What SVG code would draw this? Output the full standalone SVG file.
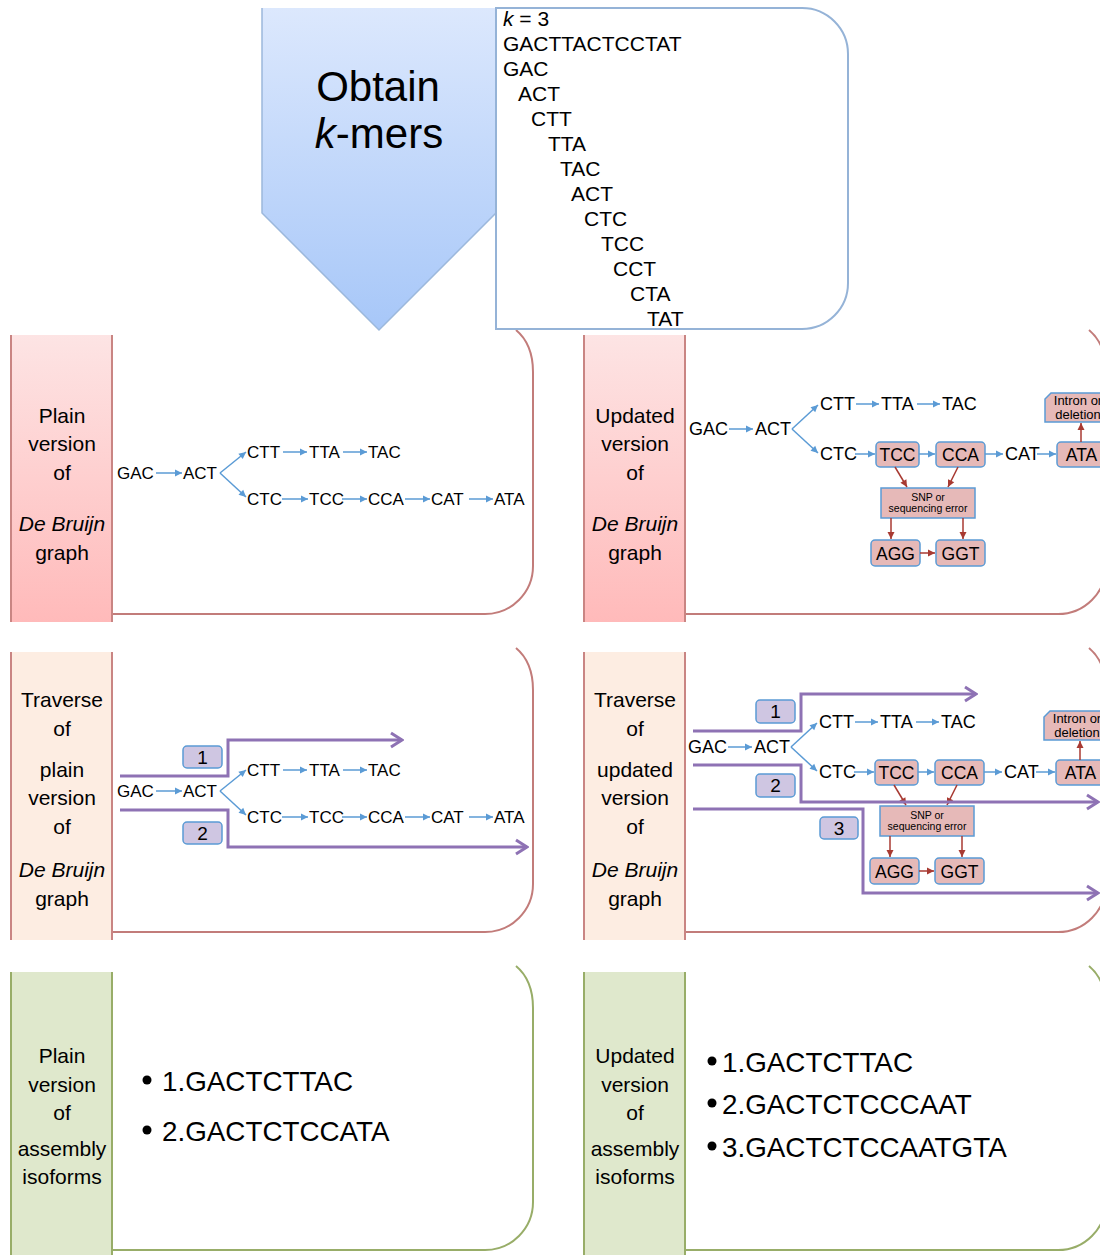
<svg xmlns="http://www.w3.org/2000/svg" width="1100" height="1255" viewBox="0 0 1100 1255">
<defs>
<linearGradient id="gBlue" x1="0" y1="0" x2="0" y2="1"><stop offset="0" stop-color="#dce8fd"/><stop offset="1" stop-color="#a7c7f8"/></linearGradient>
<linearGradient id="gPink" x1="0" y1="0" x2="0" y2="1"><stop offset="0" stop-color="#fde4e4"/><stop offset="1" stop-color="#ffbaba"/></linearGradient>
<marker id="mb" viewBox="-8 -5 9 10" markerWidth="9" markerHeight="10" refX="0" refY="0" orient="auto" markerUnits="userSpaceOnUse"><path d="M-7,-3.5 L0,0 L-7,3.5 Z" fill="#5b9bd5"/></marker>
<marker id="mr" viewBox="-8 -5 9 10" markerWidth="9" markerHeight="10" refX="0" refY="0" orient="auto" markerUnits="userSpaceOnUse"><path d="M-7,-3.5 L0,0 L-7,3.5 Z" fill="#a83a32"/></marker>
<marker id="mp" viewBox="-14 -10 16 20" markerWidth="16" markerHeight="20" refX="0" refY="0" orient="auto" markerUnits="userSpaceOnUse"><path d="M-11,-7 L0,0 L-11,7" fill="none" stroke="#8e72b4" stroke-width="3"/></marker>
</defs>
<style>
text{font-family:"Liberation Sans",Arial,sans-serif;fill:#000}
.tab{font-size:21px;text-anchor:middle}
.it{font-style:italic}
.g{font-size:17px}
.g2{font-size:18px}
.bx{font-size:17.5px;text-anchor:middle}
.km{font-size:21px}
.blue{stroke:#5b9bd5;stroke-width:1.5;fill:none;marker-end:url(#mb)}
.red{stroke:#a83a32;stroke-width:1.5;fill:none;marker-end:url(#mr)}
.pur{stroke:#8e72b4;stroke-width:3;fill:none;marker-end:url(#mp)}
.node{fill:#e6b9b8;stroke:#5b9bd5;stroke-width:1.5}
.lbl{fill:#cfc6e2;stroke:#5b9bd5;stroke-width:1.5}
.lt{font-size:19px;text-anchor:middle}
.cr{fill:none;stroke:#c27c7a;stroke-width:2}
.cg{fill:none;stroke:#98ad68;stroke-width:2}
.br{stroke:#c98583;stroke-width:2}
.bg{stroke:#98ad68;stroke-width:2}
.iso{font-size:27.8px}
.intr{font-size:13px;text-anchor:middle}
.snp{font-size:10.5px;text-anchor:middle}
</style>

<g id="containers">
<path class="cr" d="M516 330 C528 340 533 355 533 372 L533 566 A48 48 0 0 1 485 614 L112 614"/>
<path class="cr" d="M1089 330 C1101 340 1106 355 1106 372 L1106 566 A48 48 0 0 1 1058 614 L685 614"/>
<path class="cr" d="M516 648 C528 658 533 673 533 690 L533 884 A48 48 0 0 1 485 932 L112 932"/>
<path class="cr" d="M1089 648 C1101 658 1106 673 1106 690 L1106 884 A48 48 0 0 1 1058 932 L685 932"/>
<path class="cg" d="M516 966 C528 976 533 991 533 1008 L533 1202 A48 48 0 0 1 485 1250 L112 1250"/>
<path class="cg" d="M1089 966 C1101 976 1106 991 1106 1008 L1106 1202 A48 48 0 0 1 1058 1250 L685 1250"/>
</g>

<g id="obtain">
<path d="M262 8 H496 V213 L379 330 L262 213 Z" fill="url(#gBlue)"/>
<path d="M262 8 V213 L379 330 L496 213" fill="none" stroke="#9cb8dc" stroke-width="1.5"/>
<text x="378" y="101" font-size="42" text-anchor="middle">Obtain</text>
<text x="379" y="148" font-size="42" text-anchor="middle"><tspan class="it">k</tspan>-mers</text>
</g>
<g id="kmers">
<path d="M496 8 H802 A46 46 0 0 1 848 54 V283 A46 46 0 0 1 802 329 H496 Z" fill="#fff" stroke="#95b3d7" stroke-width="2"/>
<text class="km" x="503" y="26"><tspan class="it">k</tspan> = 3</text>
<text class="km" x="503" y="51">GACTTACTCCTAT</text>
<text class="km" x="503" y="76">GAC</text>
<text class="km" x="518" y="101">ACT</text>
<text class="km" x="531" y="126">CTT</text>
<text class="km" x="548" y="151">TTA</text>
<text class="km" x="560" y="176">TAC</text>
<text class="km" x="571" y="201">ACT</text>
<text class="km" x="584" y="226">CTC</text>
<text class="km" x="601" y="251">TCC</text>
<text class="km" x="613" y="276">CCT</text>
<text class="km" x="630" y="301">CTA</text>
<text class="km" x="647" y="326">TAT</text>
</g>

<g id="tab-plain-graph">
<rect x="11" y="335" width="101" height="287" fill="url(#gPink)"/>
<line class="br" x1="11" y1="335" x2="11" y2="622"/><line class="br" x1="112" y1="335" x2="112" y2="622"/>
<text class="tab" x="62" y="423">Plain</text><text class="tab" x="62" y="451">version</text><text class="tab" x="62" y="480">of</text>
<text class="tab it" x="62" y="531">De Bruijn</text><text class="tab" x="62" y="560">graph</text>
</g>
<g id="tab-updated-graph">
<rect x="584" y="335" width="101" height="287" fill="url(#gPink)"/>
<line class="br" x1="584" y1="335" x2="584" y2="622"/><line class="br" x1="685" y1="335" x2="685" y2="622"/>
<text class="tab" x="635" y="423">Updated</text><text class="tab" x="635" y="451">version</text><text class="tab" x="635" y="480">of</text>
<text class="tab it" x="635" y="531">De Bruijn</text><text class="tab" x="635" y="560">graph</text>
</g>
<g id="tab-traverse-plain">
<rect x="11" y="652" width="101" height="288" fill="#fdede2"/>
<line class="br" x1="11" y1="652" x2="11" y2="940"/><line class="br" x1="112" y1="652" x2="112" y2="940"/>
<text class="tab" x="62" y="707">Traverse</text><text class="tab" x="62" y="736">of</text><text class="tab" x="62" y="777">plain</text>
<text class="tab" x="62" y="805">version</text><text class="tab" x="62" y="834">of</text>
<text class="tab it" x="62" y="877">De Bruijn</text><text class="tab" x="62" y="906">graph</text>
</g>
<g id="tab-traverse-updated">
<rect x="584" y="652" width="101" height="288" fill="#fdede2"/>
<line class="br" x1="584" y1="652" x2="584" y2="940"/><line class="br" x1="685" y1="652" x2="685" y2="940"/>
<text class="tab" x="635" y="707">Traverse</text><text class="tab" x="635" y="736">of</text><text class="tab" x="635" y="777">updated</text>
<text class="tab" x="635" y="805">version</text><text class="tab" x="635" y="834">of</text>
<text class="tab it" x="635" y="877">De Bruijn</text><text class="tab" x="635" y="906">graph</text>
</g>
<g id="tab-plain-assembly">
<rect x="11" y="972" width="101" height="283" fill="#dfe8cc"/>
<line class="bg" x1="11" y1="972" x2="11" y2="1255"/><line class="bg" x1="112" y1="972" x2="112" y2="1255"/>
<text class="tab" x="62" y="1063">Plain</text><text class="tab" x="62" y="1092">version</text><text class="tab" x="62" y="1120">of</text>
<text class="tab" x="62" y="1156">assembly</text><text class="tab" x="62" y="1184">isoforms</text>
</g>
<g id="tab-updated-assembly">
<rect x="584" y="972" width="101" height="283" fill="#dfe8cc"/>
<line class="bg" x1="584" y1="972" x2="584" y2="1255"/><line class="bg" x1="685" y1="972" x2="685" y2="1255"/>
<text class="tab" x="635" y="1063">Updated</text><text class="tab" x="635" y="1092">version</text><text class="tab" x="635" y="1120">of</text>
<text class="tab" x="635" y="1156">assembly</text><text class="tab" x="635" y="1184">isoforms</text>
</g>

<g id="plain-graph">
<text class="g" x="117" y="479">GAC</text><text class="g" x="183" y="479">ACT</text>
<text class="g" x="247" y="458">CTT</text><text class="g" x="309" y="458">TTA</text><text class="g" x="368" y="458">TAC</text>
<text class="g" x="247" y="505">CTC</text><text class="g" x="309" y="505">TCC</text><text class="g" x="368" y="505">CCA</text>
<text class="g" x="431" y="505">CAT</text><text class="g" x="494" y="505">ATA</text>
</g>
<g id="plain-graph-traverse" transform="translate(0,318)">
<text class="g" x="117" y="479">GAC</text><text class="g" x="183" y="479">ACT</text>
<text class="g" x="247" y="458">CTT</text><text class="g" x="309" y="458">TTA</text><text class="g" x="368" y="458">TAC</text>
<text class="g" x="247" y="505">CTC</text><text class="g" x="309" y="505">TCC</text><text class="g" x="368" y="505">CCA</text>
<text class="g" x="431" y="505">CAT</text><text class="g" x="494" y="505">ATA</text>
</g>

<g id="updated-graph">
<text class="g2" x="689" y="435">GAC</text><text class="g2" x="755" y="435">ACT</text>
<text class="g2" x="820" y="410">CTT</text><text class="g2" x="881" y="410">TTA</text><text class="g2" x="942" y="410">TAC</text>
<text class="g2" x="820" y="460">CTC</text><text class="g2" x="1005" y="460">CAT</text>
<rect class="node" x="876" y="442" width="43" height="25" rx="4"/><text class="bx" x="897.5" y="461">TCC</text>
<rect class="node" x="936" y="442" width="49" height="25" rx="4"/><text class="bx" x="960.5" y="461">CCA</text>
<rect class="node" x="1057" y="442" width="49" height="25" rx="4"/><text class="bx" x="1081.5" y="461">ATA</text>
<path class="node" d="M1051 393 H1112 V422 H1045 V399 Z"/>
<text class="intr" x="1078" y="405">Intron or</text>
<text class="intr" x="1078" y="419">deletion</text>
<rect class="node" x="881" y="488" width="94" height="30"/>
<text class="snp" x="928" y="501">SNP or</text>
<text class="snp" x="928" y="512">sequencing error</text>
<rect class="node" x="871" y="540" width="49" height="26" rx="4"/><text class="bx" x="895.5" y="560">AGG</text>
<rect class="node" x="936" y="540" width="49" height="26" rx="4"/><text class="bx" x="960.5" y="560">GGT</text>
</g>
<g id="updated-graph-traverse" transform="translate(-1,318)">
<text class="g2" x="689" y="435">GAC</text><text class="g2" x="755" y="435">ACT</text>
<text class="g2" x="820" y="410">CTT</text><text class="g2" x="881" y="410">TTA</text><text class="g2" x="942" y="410">TAC</text>
<text class="g2" x="820" y="460">CTC</text><text class="g2" x="1005" y="460">CAT</text>
<rect class="node" x="876" y="442" width="43" height="25" rx="4"/><text class="bx" x="897.5" y="461">TCC</text>
<rect class="node" x="936" y="442" width="49" height="25" rx="4"/><text class="bx" x="960.5" y="461">CCA</text>
<rect class="node" x="1057" y="442" width="49" height="25" rx="4"/><text class="bx" x="1081.5" y="461">ATA</text>
<path class="node" d="M1051 393 H1112 V422 H1045 V399 Z"/>
<text class="intr" x="1078" y="405">Intron or</text>
<text class="intr" x="1078" y="419">deletion</text>
<rect class="node" x="881" y="488" width="94" height="30"/>
<text class="snp" x="928" y="501">SNP or</text>
<text class="snp" x="928" y="512">sequencing error</text>
<rect class="node" x="871" y="540" width="49" height="26" rx="4"/><text class="bx" x="895.5" y="560">AGG</text>
<rect class="node" x="936" y="540" width="49" height="26" rx="4"/><text class="bx" x="960.5" y="560">GGT</text>
</g>

<g id="labels">
<rect class="lbl" x="183" y="746" width="39" height="22" rx="4"/><text class="lt" x="202.5" y="764">1</text>
<rect class="lbl" x="183" y="822" width="39" height="22" rx="4"/><text class="lt" x="202.5" y="840">2</text>
<rect class="lbl" x="756" y="700" width="39" height="23" rx="4"/><text class="lt" x="775.5" y="718">1</text>
<rect class="lbl" x="756" y="774" width="39" height="23" rx="4"/><text class="lt" x="775.5" y="792">2</text>
<rect class="lbl" x="820" y="817" width="38" height="22" rx="4"/><text class="lt" x="839" y="835">3</text>
</g>

<g id="plain-isoforms">
<circle cx="147" cy="1080" r="4.5"/><text class="iso" x="162" y="1091">1.GACTCTTAC</text>
<circle cx="147" cy="1130" r="4.5"/><text class="iso" x="162" y="1141">2.GACTCTCCATA</text>
</g>
<g id="updated-isoforms">
<circle cx="712" cy="1061" r="4.5"/><text class="iso" x="722" y="1072">1.GACTCTTAC</text>
<circle cx="712" cy="1103" r="4.5"/><text class="iso" x="722" y="1114">2.GACTCTCCCAAT</text>
<circle cx="712" cy="1146" r="4.5"/><text class="iso" x="722" y="1157">3.GACTCTCCAATGTA</text>
</g>

<g id="connectors">
<g id="c-plain">
<path class="blue" d="M156 473 H182"/><path class="blue" d="M220 473 L246 452"/><path class="blue" d="M220 473 L246 497"/>
<path class="blue" d="M283 452 H307"/><path class="blue" d="M343 452 H367"/>
<path class="blue" d="M282 499 H308"/><path class="blue" d="M342 499 H367"/><path class="blue" d="M405 499 H430"/><path class="blue" d="M469 499 H493"/>
</g>
<g id="c-plain-traverse" transform="translate(0,318)">
<path class="blue" d="M156 473 H182"/><path class="blue" d="M220 473 L246 452"/><path class="blue" d="M220 473 L246 497"/>
<path class="blue" d="M283 452 H307"/><path class="blue" d="M343 452 H367"/>
<path class="blue" d="M282 499 H308"/><path class="blue" d="M342 499 H367"/><path class="blue" d="M405 499 H430"/><path class="blue" d="M469 499 H493"/>
</g>
<g id="c-updated">
<path class="blue" d="M729 429 H753"/><path class="blue" d="M792 429 L818 405"/><path class="blue" d="M792 429 L818 453"/>
<path class="blue" d="M856 404 H879"/><path class="blue" d="M917 404 H940"/>
<path class="blue" d="M855 454 H875"/><path class="blue" d="M919 454 H935"/><path class="blue" d="M985 454 H1003"/><path class="blue" d="M1037 454 H1056"/>
<path class="red" d="M1081 442 V423"/><path class="red" d="M895 467 L907 487"/><path class="red" d="M958 467 L948 487"/>
<path class="red" d="M891 518 V539"/><path class="red" d="M963 518 V539"/><path class="red" d="M920 553 H935"/>
</g>
<g id="c-updated-traverse" transform="translate(-1,318)">
<path class="blue" d="M729 429 H753"/><path class="blue" d="M792 429 L818 405"/><path class="blue" d="M792 429 L818 453"/>
<path class="blue" d="M856 404 H879"/><path class="blue" d="M917 404 H940"/>
<path class="blue" d="M855 454 H875"/><path class="blue" d="M919 454 H935"/><path class="blue" d="M985 454 H1003"/><path class="blue" d="M1037 454 H1056"/>
<path class="red" d="M1081 442 V423"/><path class="red" d="M895 467 L907 487"/><path class="red" d="M958 467 L948 487"/>
<path class="red" d="M891 518 V539"/><path class="red" d="M963 518 V539"/><path class="red" d="M920 553 H935"/>
</g>
<g id="c-paths">
<path class="pur" d="M120 776 H228 V740 H402"/>
<path class="pur" d="M120 810 H228 V847 H527"/>
<path class="pur" d="M693 731 H801 V694 H976"/>
<path class="pur" d="M693 765 H801 V802 H1098"/>
<path class="pur" d="M693 809 H863 V893 H1098"/>
</g>
</g>
</svg>
